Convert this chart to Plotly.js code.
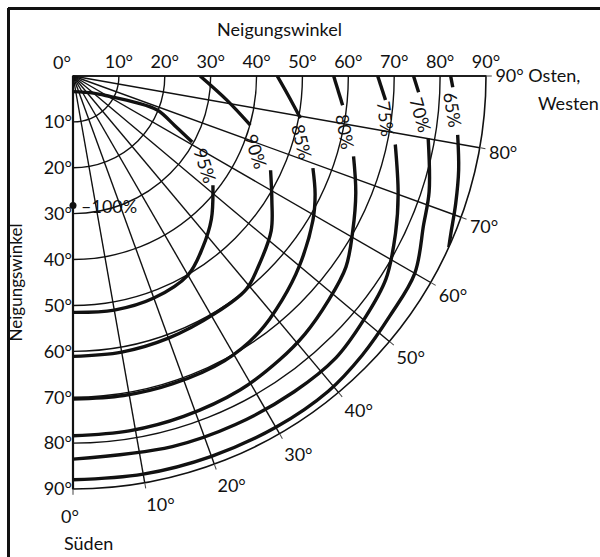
<!DOCTYPE html>
<html><head><meta charset="utf-8">
<script src="https://cdn.plot.ly/plotly-3.0.1.min.js"></script>
<style>html,body{margin:0;padding:0;background:#fff}</style>
</head><body><div id="chart" style="width:600px;height:557px"></div>
<script>
// ---- Data: azimuth measured from south (0°) towards east/west (90°), tilt = Neigungswinkel ----
const tiltTicks = [10, 20, 30, 40, 50, 60, 70, 80, 90];
const tiltTickText = ['10°', '20°', '30°', '40°', '50°', '60°', '70°', '80°', '90°'];
const azimuthTicks = [0, 10, 20, 30, 40, 50, 60, 70, 80, 90];
const azimuthTickText = ['', '10°', '20°', '30°', '40°', '50°', '60°', '70°', '80°', '90° Osten,'];

const levelNames = ['95%', '90%', '85%', '80%', '75%', '70%', '65%'];
const az95 = [0, 50, 61, 67, 68, 64, 61, null, 52, 44, 37, 30, 20, 10, 0];
const r95  = [3.4, 5.8, 9.2, 14.7, 19.8, 24.7, 29.7, null, 38.7, 43.4, 46.9, 50.1, 51.5, 51.8, 51.5];
const az90 = [90, 81, 74.5, null, 64.5, 58, 52, 44, 39, 31, 20, 10, 0];
const r90  = [27.7, 34, 40.1, null, 47.7, 51.1, 54.8, 58, 59.9, 60.3, 60.8, 61.1, 61.1];
const az85 = [90, 85, 79.5, null, 69, 64, 59, 50, 43, 36, 28, 18, 9, 0];
const r85  = [44.5, 47, 50.4, null, 56, 58.7, 61, 64.4, 66.8, 69, 70.3, 70.5, 70.5, 70.4];
const az80 = [90, 83.8, null, 74, 67.5, 61, 55, 48.7, 42, 36, 28, 18, 9, 0];
const r80  = [56.8, 59.1, null, 63.6, 66.7, 69.7, 72.6, 74.1, 75.6, 76.5, 77.5, 78, 78.3, 78.4];
const az75 = [90, 85.6, null, 78, 70, 64, 57, 50, 43, 35, 25, 15, 0];
const r75  = [66.4, 68.3, null, 71.8, 75.4, 78.2, 81.3, 82.7, 84, 84, 83.8, 83.6, 83.5];
const az70 = [90, 87.3, null, 80, 72, 67, 60, 53, 46, 39, 30, 20, 10, 0];
const r70  = [74.2, 75.4, null, 78.6, 81.6, 83, 86, 86.6, 87.6, 88.4, 88.4, 88.2, 88.1, 88];
const az65 = [90, 88.3, null, 81.3, 76.3, 71.6, 67.4, 65.5];
const r65  = [82.3, 82.8, null, 84.8, 86.5, 87.9, 89.2, 90];
const optimumAz = [0];
const optimumTilt = [28.2];

const curveAz = [az95, az90, az85, az80, az75, az70, az65];
const curveR = [r95, r90, r85, r80, r75, r70, r65];

// ---- Geometry (pixels) ----
const W = 600, H = 557;
const cx = 73, cy = 76, R = 413;
const px = v => v / W;
const py = v => 1 - v / H;
const FONT = 'Lato, "Noto Sans", sans-serif';
const INK = '#111';

const traces = [];
curveAz.forEach((a, i) => {
  traces.push({
    type: 'scatterpolar', subplot: 'polar',
    theta: a, r: curveR[i], mode: 'lines', name: levelNames[i],
    line: {color: INK, width: 3.4, shape: 'spline', smoothing: 1},
    connectgaps: false, hoverinfo: 'skip', showlegend: false
  });
});
traces.push({
  type: 'scatterpolar', subplot: 'polar', theta: optimumAz, r: optimumTilt,
  mode: 'markers', marker: {color: INK, size: 7}, cliponaxis: false,
  hoverinfo: 'skip', showlegend: false
});
traces.push({type: 'scatter', x: [], y: [], xaxis: 'x', yaxis: 'y', showlegend: false, hoverinfo: 'skip'});

// curve labels, positioned in tilt units (x to the right, y downwards)
const labelAnn = [
  {t: '95%', x: 28.8, y: 19.4, a: 72},
  {t: '90%', x: 39.9, y: 16.3, a: 72},
  {t: '85%', x: 49.9, y: 14.4, a: 76},
  {t: '80%', x: 59.3, y: 12.0, a: 80},
  {t: '75%', x: 68.2, y: 9.4, a: 82},
  {t: '70%', x: 75.8, y: 8.5, a: 74},
  {t: '65%', x: 82.8, y: 7.4, a: 80}
].map(o => ({text: o.t, x: o.x, y: o.y, xref: 'x', yref: 'y', textangle: o.a,
  xanchor: 'center', yanchor: 'middle', showarrow: false, font: {family: FONT, size: 18, color: INK}}));

const txt = (text, x, y, xa) => ({text: text, x: px(x), y: py(y), xref: 'paper', yref: 'paper',
  xanchor: xa, yanchor: 'middle', showarrow: false, font: {family: FONT, size: 18, color: INK}});

const annotations = labelAnn.concat([
  {text: '–100%', x: 1.2, y: 28.3, xref: 'x', yref: 'y', xanchor: 'left', yanchor: 'middle', showarrow: false,
   font: {family: FONT, size: 18, color: INK}},
  txt('0°', 62, 62, 'center'),
  txt('0°', 70, 516, 'center'),
  txt('Süden', 62, 543, 'left'),
  txt('Westen', 536, 103, 'left')
]);

const layout = {
  width: W, height: H, autosize: false,
  margin: {l: 0, r: 0, t: 0, b: 0, pad: 0, autoexpand: false},
  paper_bgcolor: '#fff', plot_bgcolor: 'rgba(0,0,0,0)',
  showlegend: false,
  font: {family: FONT, size: 18, color: INK},
  polar: {
    domain: {x: [px(cx), px(cx + R)], y: [py(cy + R), py(cy)]},
    sector: [-90, 0],
    bgcolor: '#fff',
    radialaxis: {range: [0, 90], tickvals: tiltTicks, showticklabels: false, ticks: '',
      showgrid: true, gridcolor: INK, gridwidth: 1.4, showline: true, linecolor: INK, linewidth: 2.2, angle: -90},
    angularaxis: {type: 'linear', rotation: -90, direction: 'counterclockwise', thetaunit: 'degrees',
      tickmode: 'array', tickvals: azimuthTicks, ticktext: azimuthTickText,
      showgrid: true, gridcolor: INK, gridwidth: 1.4, showline: true, linecolor: INK, linewidth: 1.6,
      showticklabels: true, tickfont: {family: FONT, size: 18, color: INK}}
  },
  xaxis: {domain: [px(cx), px(cx + R)], range: [0, 90], side: 'top', anchor: 'y', automargin: false,
    tickvals: tiltTicks, ticktext: tiltTickText, ticks: '', showgrid: false, zeroline: false,
    showline: false, fixedrange: true, ticklabelstandoff: 3, tickfont: {family: FONT, size: 18, color: INK},
    title: {text: 'Neigungswinkel', font: {family: FONT, size: 18, color: INK}, standoff: 9}},
  yaxis: {domain: [py(cy + R), py(cy)], range: [90, 0], anchor: 'x', automargin: false,
    tickvals: tiltTicks, ticktext: tiltTickText, ticks: '', showgrid: false, zeroline: false,
    showline: false, fixedrange: true, tickfont: {family: FONT, size: 18, color: INK},
    title: {text: 'Neigungswinkel', font: {family: FONT, size: 17, color: INK}, standoff: 16}},
  annotations: annotations,
  shapes: [
    {type: 'line', xref: 'paper', yref: 'paper', x0: px(8), x1: 1, y0: py(8.5), y1: py(8.5), line: {color: INK, width: 3}},
    {type: 'line', xref: 'paper', yref: 'paper', x0: px(8.5), x1: px(8.5), y0: py(8), y1: 0, line: {color: INK, width: 3}}
  ]
};

Plotly.newPlot('chart', traces, layout, {staticPlot: true, displayModeBar: false});
</script>
</body></html>
